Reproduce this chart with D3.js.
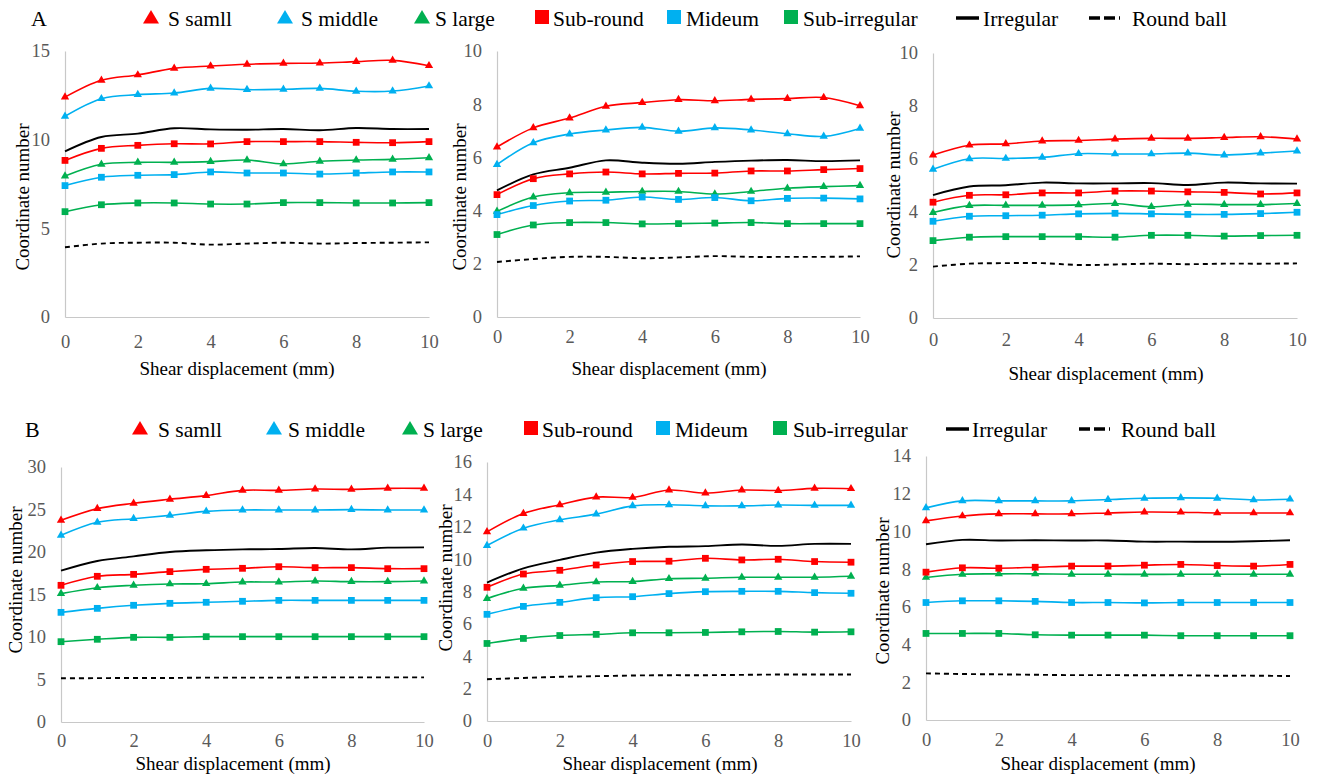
<!DOCTYPE html>
<html>
<head>
<meta charset="utf-8">
<script src="https://cdn.jsdelivr.net/npm/d3@7"></script>
<style>
  html, body { margin: 0; padding: 0; background: #fff; }
  svg { display: block; }
</style>
</head>
<body>
<svg id="chart" width="1321" height="775"></svg>
<script>
// ---------- DATA ----------
const shearDisp = [0, 1, 2, 3, 4, 5, 6, 7, 8, 9, 10];
const xTickValues = [0, 2, 4, 6, 8, 10];
const seriesNames = ["S samll", "S middle", "S large", "Sub-round", "Mideum", "Sub-irregular", "Irregular", "Round ball"];

// Panel A1
const a1_sSmall = [12.4, 13.35, 13.65, 14.02, 14.15, 14.25, 14.3, 14.32, 14.4, 14.47, 14.17];
const a1_sMiddle = [11.32, 12.31, 12.54, 12.63, 12.89, 12.82, 12.84, 12.89, 12.73, 12.74, 13.03];
const a1_sLarge = [7.95, 8.61, 8.72, 8.72, 8.76, 8.85, 8.63, 8.78, 8.85, 8.89, 8.98];
const a1_subRound = [8.83, 9.51, 9.68, 9.77, 9.76, 9.89, 9.89, 9.89, 9.85, 9.83, 9.89];
const a1_mideum = [7.41, 7.88, 7.99, 8.03, 8.18, 8.12, 8.12, 8.06, 8.12, 8.18, 8.18];
const a1_subIrregular = [5.94, 6.33, 6.43, 6.43, 6.37, 6.37, 6.45, 6.45, 6.43, 6.43, 6.45];
const a1_irregular = [9.34, 10.15, 10.34, 10.64, 10.58, 10.56, 10.6, 10.53, 10.66, 10.6, 10.6];
const a1_roundBall = [3.93, 4.14, 4.19, 4.19, 4.08, 4.14, 4.19, 4.14, 4.17, 4.19, 4.21];
const a1_yTicks = [0, 5, 10, 15];

// Panel A2
const a2_sSmall = [6.39, 7.11, 7.48, 7.92, 8.06, 8.17, 8.13, 8.18, 8.21, 8.25, 7.94];
const a2_sMiddle = [5.73, 6.55, 6.88, 7.03, 7.13, 6.98, 7.11, 7.03, 6.89, 6.79, 7.09];
const a2_sLarge = [3.97, 4.51, 4.67, 4.69, 4.72, 4.72, 4.62, 4.72, 4.84, 4.9, 4.94];
const a2_subRound = [4.6, 5.2, 5.38, 5.45, 5.38, 5.4, 5.41, 5.49, 5.49, 5.54, 5.58];
const a2_mideum = [3.85, 4.19, 4.36, 4.39, 4.51, 4.42, 4.49, 4.37, 4.46, 4.47, 4.44];
const a2_subIrregular = [3.1, 3.46, 3.55, 3.55, 3.5, 3.51, 3.53, 3.55, 3.51, 3.51, 3.51];
const a2_irregular = [4.76, 5.36, 5.61, 5.89, 5.8, 5.76, 5.83, 5.88, 5.9, 5.86, 5.89];
const a2_roundBall = [2.07, 2.18, 2.26, 2.26, 2.21, 2.24, 2.29, 2.26, 2.26, 2.26, 2.28];
const a2_yTicks = [0, 2, 4, 6, 8, 10];

// Panel A3
const a3_sSmall = [6.15, 6.52, 6.57, 6.68, 6.7, 6.75, 6.78, 6.78, 6.81, 6.84, 6.75];
const a3_sMiddle = [5.61, 6.01, 6.02, 6.06, 6.2, 6.19, 6.19, 6.22, 6.15, 6.22, 6.3];
const a3_sLarge = [3.98, 4.24, 4.25, 4.25, 4.27, 4.32, 4.2, 4.29, 4.28, 4.28, 4.32];
const a3_subRound = [4.37, 4.63, 4.65, 4.72, 4.72, 4.79, 4.79, 4.76, 4.74, 4.68, 4.72];
const a3_mideum = [3.65, 3.84, 3.86, 3.88, 3.93, 3.95, 3.93, 3.91, 3.91, 3.94, 3.99];
const a3_subIrregular = [2.92, 3.05, 3.07, 3.07, 3.07, 3.05, 3.12, 3.12, 3.09, 3.11, 3.12];
const a3_irregular = [4.64, 4.96, 5.01, 5.11, 5.08, 5.08, 5.09, 5.02, 5.11, 5.08, 5.07];
const a3_roundBall = [1.94, 2.05, 2.07, 2.07, 2.0, 2.02, 2.05, 2.03, 2.05, 2.05, 2.06];
const a3_yTicks = [0, 2, 4, 6, 8, 10];

// Panel B1
const b1_sSmall = [23.73, 25.1, 25.73, 26.2, 26.63, 27.25, 27.25, 27.41, 27.37, 27.49, 27.49];
const b1_sMiddle = [21.96, 23.49, 23.92, 24.31, 24.78, 24.94, 24.94, 24.94, 24.98, 24.94, 24.94];
const b1_sLarge = [15.1, 15.8, 16.08, 16.24, 16.27, 16.47, 16.47, 16.59, 16.51, 16.51, 16.59];
const b1_subRound = [16.08, 17.14, 17.37, 17.69, 17.96, 18.08, 18.27, 18.16, 18.16, 18.04, 18.04];
const b1_mideum = [12.9, 13.37, 13.73, 13.96, 14.08, 14.2, 14.31, 14.31, 14.31, 14.31, 14.31];
const b1_subIrregular = [9.45, 9.73, 9.96, 9.96, 10.04, 10.04, 10.04, 10.04, 10.04, 10.04, 10.04];
const b1_irregular = [17.8, 18.94, 19.49, 20.0, 20.2, 20.31, 20.35, 20.47, 20.31, 20.51, 20.55];
const b1_roundBall = [5.14, 5.16, 5.18, 5.18, 5.22, 5.22, 5.22, 5.25, 5.25, 5.25, 5.25];
const b1_yTicks = [0, 5, 10, 15, 20, 25, 30];

// Panel B2
const b2_sSmall = [11.68, 12.82, 13.36, 13.83, 13.81, 14.27, 14.08, 14.27, 14.24, 14.37, 14.35];
const b2_sMiddle = [10.84, 11.91, 12.43, 12.78, 13.29, 13.36, 13.29, 13.29, 13.34, 13.32, 13.32];
const b2_sLarge = [7.56, 8.2, 8.38, 8.59, 8.61, 8.79, 8.82, 8.88, 8.88, 8.88, 8.94];
const b2_subRound = [8.26, 9.08, 9.31, 9.64, 9.85, 9.87, 10.05, 9.95, 9.99, 9.85, 9.81];
const b2_mideum = [6.59, 7.08, 7.33, 7.62, 7.68, 7.87, 7.99, 8.01, 8.01, 7.93, 7.89];
const b2_subIrregular = [4.79, 5.1, 5.28, 5.35, 5.45, 5.45, 5.47, 5.51, 5.53, 5.49, 5.51];
const b2_irregular = [8.55, 9.43, 9.95, 10.4, 10.63, 10.76, 10.8, 10.9, 10.82, 10.94, 10.94];
const b2_roundBall = [2.58, 2.66, 2.73, 2.77, 2.81, 2.83, 2.83, 2.85, 2.87, 2.87, 2.87];
const b2_yTicks = [0, 2, 4, 6, 8, 10, 12, 14, 16];

// Panel B3
const b3_sSmall = [10.56, 10.82, 10.93, 10.93, 10.93, 10.98, 11.03, 11.02, 10.98, 10.98, 10.98];
const b3_sMiddle = [11.25, 11.62, 11.62, 11.62, 11.62, 11.69, 11.76, 11.78, 11.76, 11.67, 11.71];
const b3_sLarge = [7.56, 7.73, 7.75, 7.75, 7.73, 7.73, 7.72, 7.73, 7.73, 7.73, 7.73];
const b3_subRound = [7.84, 8.07, 8.05, 8.1, 8.16, 8.16, 8.21, 8.25, 8.19, 8.16, 8.25];
const b3_mideum = [6.23, 6.32, 6.32, 6.29, 6.23, 6.23, 6.21, 6.23, 6.23, 6.23, 6.23];
const b3_subIrregular = [4.59, 4.59, 4.59, 4.52, 4.5, 4.5, 4.5, 4.47, 4.47, 4.47, 4.47];
const b3_irregular = [9.32, 9.55, 9.52, 9.53, 9.52, 9.52, 9.46, 9.46, 9.45, 9.48, 9.53];
const b3_roundBall = [2.47, 2.44, 2.42, 2.4, 2.38, 2.38, 2.37, 2.37, 2.35, 2.35, 2.33];
const b3_yTicks = [0, 2, 4, 6, 8, 10, 12, 14];

// ---------- STYLE / LAYOUT ----------
const RED = "#FF0000", BLUE = "#00B0F0", GREEN = "#00B050";
const seriesStyle = [
  { color: RED,   marker: "triangle" },
  { color: BLUE,  marker: "triangle" },
  { color: GREEN, marker: "triangle" },
  { color: RED,   marker: "square" },
  { color: BLUE,  marker: "square" },
  { color: GREEN, marker: "square" },
  { color: "#000", marker: "none" },
  { color: "#000", marker: "none", dash: "5,4" }
];
const FONT = "'Liberation Serif', 'Times New Roman', serif";

const panels = [
  { x0: 65,  x1: 429,  yb: 317, yt: 51,  ymax: 15, ticks: a1_yTicks, xtY: 342, ytX: 22,  ytY: 197, xlX: 237,  xlY: 368,
    series: [a1_sSmall, a1_sMiddle, a1_sLarge, a1_subRound, a1_mideum, a1_subIrregular, a1_irregular, a1_roundBall] },
  { x0: 497, x1: 860,  yb: 317, yt: 51,  ymax: 10, ticks: a2_yTicks, xtY: 337, ytX: 459, ytY: 197, xlX: 669,  xlY: 368,
    series: [a2_sSmall, a2_sMiddle, a2_sLarge, a2_subRound, a2_mideum, a2_subIrregular, a2_irregular, a2_roundBall] },
  { x0: 933, x1: 1297, yb: 318, yt: 53,  ymax: 10, ticks: a3_yTicks, xtY: 340, ytX: 893, ytY: 185, xlX: 1106, xlY: 373,
    series: [a3_sSmall, a3_sMiddle, a3_sLarge, a3_subRound, a3_mideum, a3_subIrregular, a3_irregular, a3_roundBall] },
  { x0: 61,  x1: 424,  yb: 722, yt: 467, ymax: 30, ticks: b1_yTicks, xtY: 741, ytX: 15,  ytY: 580, xlX: 233,  xlY: 763,
    series: [b1_sSmall, b1_sMiddle, b1_sLarge, b1_subRound, b1_mideum, b1_subIrregular, b1_irregular, b1_roundBall] },
  { x0: 487, x1: 851,  yb: 721, yt: 462, ymax: 16, ticks: b2_yTicks, xtY: 741, ytX: 445, ytY: 578, xlX: 660,  xlY: 763,
    series: [b2_sSmall, b2_sMiddle, b2_sLarge, b2_subRound, b2_mideum, b2_subIrregular, b2_irregular, b2_roundBall] },
  { x0: 926, x1: 1290, yb: 720, yt: 456, ymax: 14, ticks: b3_yTicks, xtY: 740, ytX: 882, ytY: 591, xlX: 1098, xlY: 763,
    series: [b3_sSmall, b3_sMiddle, b3_sLarge, b3_subRound, b3_mideum, b3_subIrregular, b3_irregular, b3_roundBall] }
];

const svg = d3.select("#chart");
const triPath = d3.symbol(d3.symbolTriangle, 30)();
const sqPath = d3.symbol(d3.symbolSquare, 46)();

panels.forEach(p => {
  const x = d3.scaleLinear().domain([0, 10]).range([p.x0, p.x1]);
  const y = d3.scaleLinear().domain([0, p.ymax]).range([p.yb, p.yt]);
  const g = svg.append("g");

  // y axis
  const ya = g.append("g").attr("transform", `translate(${p.x0},0)`)
    .call(d3.axisLeft(y).tickValues(p.ticks).tickSize(0).tickPadding(15).tickFormat(d3.format("d")));
  ya.select(".domain").attr("stroke", "#c8c8c8").attr("stroke-width", 1.2);
  ya.selectAll("text").attr("font-family", FONT).attr("font-size", 18.5).attr("fill", "#595959");

  // x axis
  const xa = g.append("g").attr("transform", `translate(0,${p.yb})`)
    .call(d3.axisBottom(x).tickValues(xTickValues).tickSize(0).tickPadding(p.xtY - p.yb - 7).tickFormat(d3.format("d")));
  xa.select(".domain").attr("stroke", "#c8c8c8").attr("stroke-width", 1.2);
  xa.selectAll("text").attr("font-family", FONT).attr("font-size", 18.5).attr("fill", "#595959");

  // titles
  g.append("text").attr("transform", `translate(${p.ytX},${p.ytY}) rotate(-90)`)
    .attr("text-anchor", "middle").attr("dominant-baseline", "central")
    .attr("font-family", FONT).attr("font-size", 19).attr("fill", "#000").text("Coordinate number");
  g.append("text").attr("x", p.xlX).attr("y", p.xlY)
    .attr("text-anchor", "middle").attr("dominant-baseline", "central")
    .attr("font-family", FONT).attr("font-size", 19).attr("fill", "#000").text("Shear displacement (mm)");

  const line = d3.line().x((d, i) => x(shearDisp[i])).y(d => y(d)).curve(d3.curveCatmullRom.alpha(0.5));

  // lines (draw in reverse so first series on top)
  p.series.forEach((vals, si) => {
    const st = seriesStyle[si];
    g.append("path").datum(vals).attr("d", line)
      .attr("fill", "none").attr("stroke", st.color)
      .attr("stroke-width", st.marker === "none" ? 1.9 : 1.6)
      .attr("stroke-dasharray", st.dash || null);
  });
  // markers
  p.series.forEach((vals, si) => {
    const st = seriesStyle[si];
    if (st.marker === "none") return;
    g.selectAll(null).data(vals).enter().append("path")
      .attr("d", st.marker === "triangle" ? triPath : sqPath)
      .attr("transform", (d, i) => `translate(${x(shearDisp[i])},${y(d)})`)
      .attr("fill", st.color);
  });
});

// ---------- LEGENDS ----------
const legendA = { label: "A", labelX: 31, baseline: 26, markX: [151, 285, 422, 542, 674, 791, 956, 1089], textX: [168, 301, 435, 553, 686, 803, 983, 1132] };
const legendB = { label: "B", labelX: 25, baseline: 437, markX: [140, 274, 410, 531, 663, 780, 946, 1079], textX: [158, 288, 423, 542, 675, 793, 972, 1121] };

[legendA, legendB].forEach(L => {
  const g = svg.append("g");
  g.append("text").attr("x", L.labelX).attr("y", L.baseline)
    .attr("font-family", FONT).attr("font-size", 22).attr("fill", "#000").text(L.label);
  const cy = L.baseline - 9;
  seriesNames.forEach((name, i) => {
    const st = seriesStyle[i];
    const mx = L.markX[i];
    if (st.marker === "triangle") {
      g.append("path").attr("d", `M${mx - 8},${cy + 6.5}L${mx + 8},${cy + 6.5}L${mx},${cy - 7}Z`).attr("fill", st.color);
    } else if (st.marker === "square") {
      g.append("rect").attr("x", mx - 7).attr("y", cy - 7).attr("width", 14).attr("height", 14).attr("fill", st.color);
    } else if (!st.dash) {
      g.append("line").attr("x1", mx).attr("x2", mx + 23).attr("y1", cy + 1).attr("y2", cy + 1)
        .attr("stroke", "#000").attr("stroke-width", 3.5);
    } else {
      g.append("line").attr("x1", mx).attr("x2", mx + 34).attr("y1", cy + 1).attr("y2", cy + 1)
        .attr("stroke", "#000").attr("stroke-width", 3.5).attr("stroke-dasharray", "11,4,11,4,1,20");
    }
    g.append("text").attr("x", L.textX[i]).attr("y", L.baseline)
      .attr("font-family", FONT).attr("font-size", 21.5).attr("fill", "#000").text(name);
  });
});
</script>
</body>
</html>
